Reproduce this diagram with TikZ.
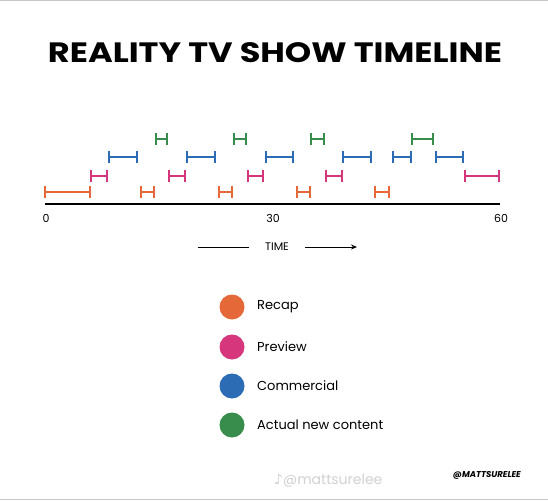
\documentclass[tikz,border=0pt]{standalone}
\usepackage{fontspec}
\setmainfont{Poppins}
\newfontfamily\symfont{DejaVu Sans}
\usetikzlibrary{arrows.meta}
\definecolor{recap}{RGB}{229,104,56}
\definecolor{preview}{RGB}{214,54,124}
\definecolor{commercial}{RGB}{44,108,180}
\definecolor{newcontent}{RGB}{56,140,76}
\tikzset{
  segline/.style={line width=2.6pt},
  axisline/.style={line width=2.6pt, black},
  lbl/.style={font=\fontsize{11}{13}\selectfont, text=black},
  legtext/.style={font=\fontsize{13}{16}\selectfont, anchor=west, inner sep=0pt},
  legdot/.style={circle, minimum size=25pt, inner sep=0pt},
  border/.style={line width=1pt, black!22}
}
\newcommand\tlseg[4]{%
  \draw[segline,#1] (#2,#4-6) -- (#2,#4+6) (#2,#4) -- (#3,#4) (#3,#4-6) -- (#3,#4+6);}
\begin{document}
\begin{tikzpicture}[x=1pt,y=-1pt]
\useasboundingbox (0,0) rectangle (548,500);
\fill[white] (0,0) rectangle (548,500);
\draw[border] (0,0.5) -- (548,0.5);
\draw[border] (0,499) -- (548,499);
% title
\node[font=\fontsize{28}{32}\selectfont\bfseries, inner sep=0pt, xscale=1.2] (title) at (275,53) {REALITY TV SHOW TIMELINE};
% recap row
\tlseg{recap}{45}{90}{192}
\tlseg{recap}{141}{154}{192}
\tlseg{recap}{219}{232}{192}
\tlseg{recap}{297}{310}{192}
\tlseg{recap}{375}{389}{192}
% preview row
\tlseg{preview}{91}{107}{176}
\tlseg{preview}{169}{185}{176}
\tlseg{preview}{248}{263}{176}
\tlseg{preview}{326}{342}{176}
\tlseg{preview}{465}{499}{176}
% commercial row
\tlseg{commercial}{109}{137}{157}
\tlseg{commercial}{187}{215}{157}
\tlseg{commercial}{266}{293}{157}
\tlseg{commercial}{343}{371}{157}
\tlseg{commercial}{393}{411}{157}
\tlseg{commercial}{436}{463}{157}
% new content row
\tlseg{newcontent}{156}{167}{139}
\tlseg{newcontent}{234}{246}{139}
\tlseg{newcontent}{311}{324}{139}
\tlseg{newcontent}{412}{433}{139}
% axis
\coordinate (a0) at (45,204);
\coordinate (a60) at (500,204);
\draw[axisline] (a0) -- (a60);
\node[lbl] (l0) at (46,218) {0};
\node[lbl] (l30) at (273,218) {30};
\node[lbl] (l60) at (501,218) {60};
% time arrow
\node[font=\fontsize{11}{12}\selectfont] (time) at (277,247) {TIME};
\coordinate (t1) at (198,247);
\coordinate (t2) at (249,247);
\coordinate (t3) at (305,247);
\coordinate (t4) at (357,247);
\draw[line width=0.9pt] (t1) -- (t2);
\draw[line width=0.9pt, -{Stealth[length=6pt,width=5pt]}] (t3) -- (t4);
% legend
\node[legdot, fill=recap] (d1) at (232,307) {};
\node[legdot, fill=preview] (d2) at (232,347) {};
\node[legdot, fill=commercial] (d3) at (232,386) {};
\node[legdot, fill=newcontent] (d4) at (232,425) {};
\node[legtext] (t1l) at (257,307) {Recap};
\node[legtext] (t2l) at (257,347) {Preview};
\node[legtext] (t3l) at (257,386) {Commercial};
\node[legtext] (t4l) at (257,425) {Actual new content};
% credits
\node[font=\fontsize{14}{16}\selectfont, text=black!18, anchor=west, inner sep=0pt] (wm) at (274,481) {{\symfont ♪}@mattsurelee};
\node[font=\fontsize{8.5}{10}\selectfont\bfseries\itshape, anchor=east, inner sep=0pt] (cred) at (521,475) {@MATTSURELEE};
\end{tikzpicture}
\end{document}
